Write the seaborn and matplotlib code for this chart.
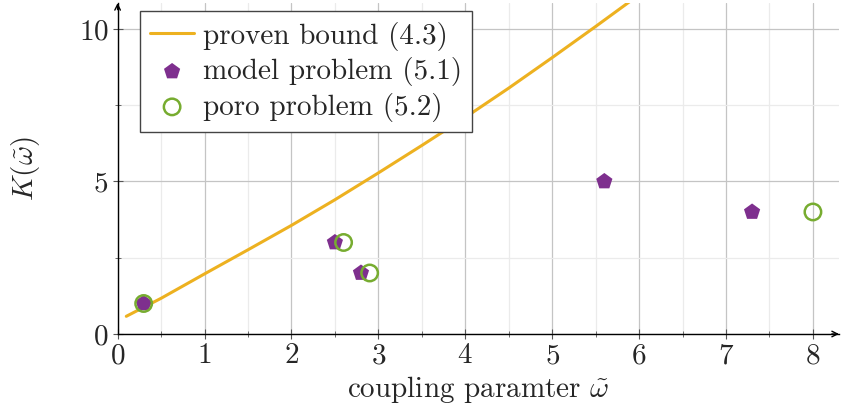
import numpy as np
import pandas as pd
import matplotlib
matplotlib.use("Agg")
import matplotlib.pyplot as plt
import seaborn as sns

# ---- data ----
bound_x = [0.1, 0.5, 1.0, 1.5, 2.0, 2.5, 3.0, 3.5, 4.0, 4.5, 5.0, 5.5, 6.0]
bound_y = [0.58, 1.17, 1.97, 2.76, 3.56, 4.40, 5.28, 6.18, 7.10, 8.06, 9.06, 10.08, 11.12]

model_x = [0.3, 2.5, 2.8, 5.6, 7.3]
model_y = [1, 3, 2, 5, 4]

poro_x = [0.3, 2.6, 2.9, 8.0]
poro_y = [1, 3, 2, 4]

x_ticks = [0, 1, 2, 3, 4, 5, 6, 7, 8]
y_ticks = [0, 5, 10]

label_bound = "proven bound (4.3)"
label_model = "model problem (5.1)"
label_poro = "poro problem (5.2)"
xlabel = r"coupling paramter $\tilde{\omega}$"
ylabel = r"$K(\tilde{\omega})$"

c_bound = "#EDB120"
c_model = "#7E2F8E"
c_poro = "#77AC30"

sns.set_theme(style="white")
plt.rcParams["font.family"] = ["cmr10", "DejaVu Serif"]
plt.rcParams["mathtext.fontset"] = "cm"
plt.rcParams["axes.formatter.use_mathtext"] = True
plt.rcParams["axes.unicode_minus"] = False

FS = 21

fig = plt.figure(figsize=(8.42, 4.19), dpi=100)
ax = fig.add_axes([117.6 / 842, 85 / 419, (839 - 117.6) / 842, (334 - 3) / 419])

df_b = pd.DataFrame({"x": bound_x, "y": bound_y})
df_m = pd.DataFrame({"x": model_x, "y": model_y})
df_p = pd.DataFrame({"x": poro_x, "y": poro_y})

sns.lineplot(data=df_b, x="x", y="y", ax=ax, color=c_bound, linewidth=2.2,
             label=label_bound, sort=True, zorder=3)
sns.scatterplot(data=df_m, x="x", y="y", ax=ax, color=c_model, marker="p", s=150,
                edgecolor="none", label=label_model, zorder=4)
sns.scatterplot(data=df_p, x="x", y="y", ax=ax, marker="o", s=140,
                facecolor="none", edgecolor=c_poro, linewidth=1.8,
                label=label_poro, zorder=5)

ax.set_xlim(0, 8.3)
ax.set_ylim(0, 10.85)
ax.set_xticks(x_ticks)
ax.set_yticks(y_ticks)
ax.set_xticks(np.arange(0.5, 8.3, 1.0), minor=True)
ax.set_yticks([2.5, 7.5], minor=True)

ax.grid(True, which="major", color="#c4c4c4", linewidth=0.9, zorder=0)
ax.grid(True, which="minor", color="#ebebeb", linewidth=0.9, zorder=0)
ax.set_axisbelow(True)

for s in ["top", "right"]:
    ax.spines[s].set_visible(False)
for s in ["left", "bottom"]:
    ax.spines[s].set_color("black")
    ax.spines[s].set_linewidth(1.0)
    ax.spines[s].set_zorder(6)

ax.tick_params(axis="both", which="major", direction="inout", length=7, width=0.8,
               color="#555555", labelsize=FS, pad=3, bottom=True, left=True)
ax.tick_params(axis="both", which="minor", direction="inout", length=5, width=0.6,
               color="#555555", bottom=True, left=True)

ax.set_xlabel(xlabel, fontsize=FS, labelpad=3)
ax.set_ylabel(ylabel, fontsize=FS, labelpad=26)

# arrow heads on the axes
ax.annotate("", xy=(1.0, 0), xytext=(0.99, 0), xycoords="axes fraction",
            arrowprops=dict(arrowstyle="->", color="black", lw=1.0,
                            shrinkA=0, shrinkB=0, mutation_scale=10),
            annotation_clip=False)
ax.annotate("", xy=(0, 1.0), xytext=(0, 0.98), xycoords="axes fraction",
            arrowprops=dict(arrowstyle="->", color="black", lw=1.0,
                            shrinkA=0, shrinkB=0, mutation_scale=10),
            annotation_clip=False)

leg = ax.legend(loc="upper left", bbox_to_anchor=(140 / 842, 1 - 11.5 / 419),
                bbox_transform=fig.transFigure, borderaxespad=0,
                fontsize=FS, frameon=True, fancybox=False, framealpha=1,
                edgecolor="#444444", handlelength=1.5, handletextpad=0.3,
                labelspacing=0.22, borderpad=0.35)
leg.get_frame().set_linewidth(1.0)
leg.set_zorder(10)

fig.savefig("out.png", dpi=100)
